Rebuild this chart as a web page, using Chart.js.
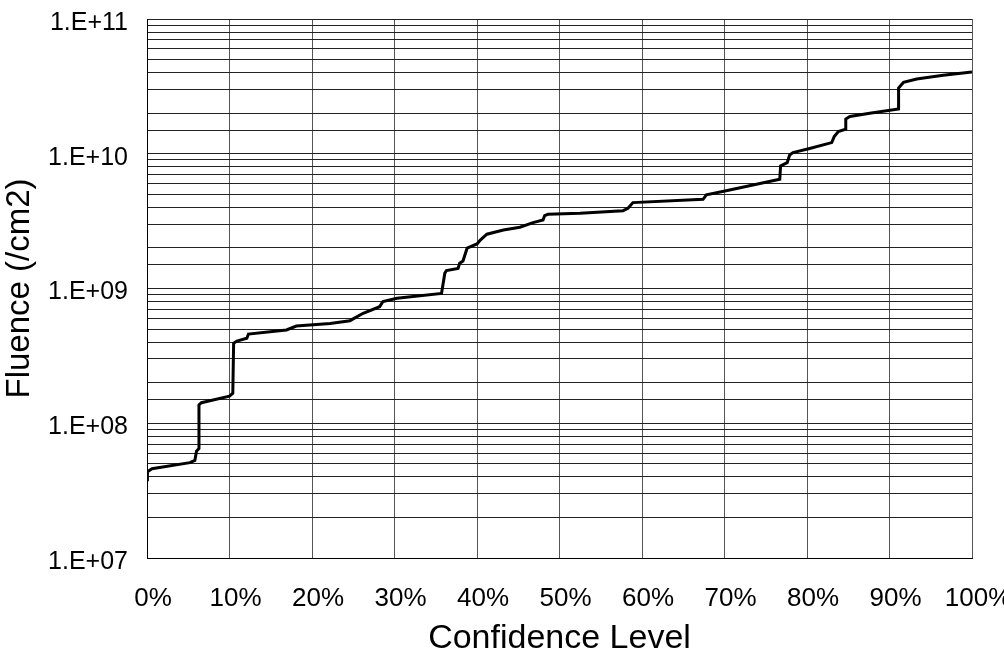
<!DOCTYPE html>
<html>
<head>
<meta charset="utf-8">
<script src="https://cdn.jsdelivr.net/npm/chart.js@4.4.1/dist/chart.umd.min.js"></script>
<style>
  html, body { margin: 0; padding: 0; background: #fff; overflow: hidden; }
  #wrap { width: 1030px; height: 659px; position: relative; }
</style>
</head>
<body>
<div id="wrap"><canvas id="c"></canvas></div>
<script>
// Confidence level (%) along the curve
const confidence = [
  0.0, 0.05, 0.6, 5.2, 5.8, 6.0, 6.3, 6.3, 6.6, 10.0,
  10.4, 10.5, 10.9, 12.1, 12.3, 16.9, 18.1, 22.2, 24.6, 26.2,
  28.2, 28.6, 30.3, 35.7, 36.1, 36.3, 37.7, 37.9, 38.3, 38.8,
  40.0, 40.4, 41.2, 43.2, 45.2, 46.8, 48.0, 48.2, 48.6, 52.5,
  57.7, 58.3, 58.9, 67.4, 67.8, 70.2, 76.7, 76.8, 77.6, 77.9,
  78.3, 80.2, 83.0, 83.3, 83.8, 84.7, 84.7, 85.2, 87.6, 91.1,
  91.1, 91.7, 93.3, 96.5, 100.0
];
// Fluence (/cm2) at each confidence level
const fluence = [
  3.8e7, 4.36e7, 4.6e7, 5.1e7, 5.3e7, 6.2e7, 6.5e7, 1.37e8, 1.42e8, 1.59e8,
  1.67e8, 3.92e8, 4.07e8, 4.27e8, 4.59e8, 4.92e8, 5.27e8, 5.5e8, 5.77e8, 6.55e8,
  7.33e8, 8.0e8, 8.46e8, 9.2e8, 1.30e9, 1.36e9, 1.41e9, 1.54e9, 1.60e9, 1.99e9,
  2.14e9, 2.29e9, 2.53e9, 2.72e9, 2.85e9, 3.08e9, 3.22e9, 3.47e9, 3.55e9, 3.62e9,
  3.78e9, 3.94e9, 4.34e9, 4.59e9, 4.95e9, 5.32e9, 6.47e9, 8.11e9, 8.59e9, 9.8e9,
  1.02e10, 1.09e10, 1.21e10, 1.34e10, 1.46e10, 1.52e10, 1.81e10, 1.89e10, 2.0e10, 2.15e10,
  3.07e10, 3.39e10, 3.59e10, 3.82e10, 4.05e10
];
const xTickValues = [0, 10, 20, 30, 40, 50, 60, 70, 80, 90, 100];
const yMajorLabels = ["1.E+07", "1.E+08", "1.E+09", "1.E+10", "1.E+11"];
const xTitle = "Confidence Level";
const yTitle = "Fluence (/cm2)";

const FONT = '"Liberation Sans", Arial, sans-serif';

const points = confidence.map((c, i) => ({ x: c, y: fluence[i] }));

new Chart(document.getElementById('c'), {
  type: 'line',
  data: {
    datasets: [{
      data: points,
      borderColor: '#000',
      borderWidth: 3,
      pointRadius: 0,
      tension: 0,
      fill: false
    }]
  },
  options: {
    responsive: true,
    maintainAspectRatio: false,
    animation: false,
    layout: { padding: { top: 19, right: 58, left: 0, bottom: 0 } },
    plugins: { legend: { display: false }, tooltip: { enabled: false } },
    scales: {
      x: {
        type: 'linear',
        min: 0, max: 100,
        afterBuildTicks: (s) => { s.ticks = xTickValues.map(v => ({ value: v })); },
        afterFit: (s) => { s.height = 101; s.paddingLeft = 0; s.paddingRight = 0; },
        ticks: {
          autoSkip: false,
          maxRotation: 0,
          padding: 25,
          labelOffset: 6,
          color: '#000',
          font: { family: FONT, size: 26 },
          callback: (v) => v + '%'
        },
        grid: { color: '#555', lineWidth: 1, drawTicks: false },
        border: { color: '#000', width: 1 },
        title: {
          display: true,
          text: xTitle,
          color: '#000',
          font: { family: FONT, size: 34 },
          padding: { top: 0, bottom: 0 }
        }
      },
      y: {
        type: 'logarithmic',
        min: 1e7, max: 1e11,
        afterFit: (s) => { s.width = 147; s.paddingTop = 0; s.paddingBottom = 0; },
        ticks: {
          autoSkip: false,
          padding: 19,
          labelOffset: 4,
          color: '#000',
          font: { family: FONT, size: 25 },
          callback: (v) => {
            const e = Math.round(Math.log10(v));
            if (Math.abs(v - Math.pow(10, e)) < 1e-6 * v) {
              return yMajorLabels[e - 7] !== undefined ? yMajorLabels[e - 7] : '';
            }
            return '';
          }
        },
        grid: { color: '#222', lineWidth: 1, drawTicks: false },
        border: { color: '#000', width: 1 },
        title: {
          display: true,
          text: yTitle,
          color: '#000',
          font: { family: FONT, size: 33 },
          padding: { top: 0, bottom: 0 }
        }
      }
    }
  }
});
</script>
</body>
</html>
